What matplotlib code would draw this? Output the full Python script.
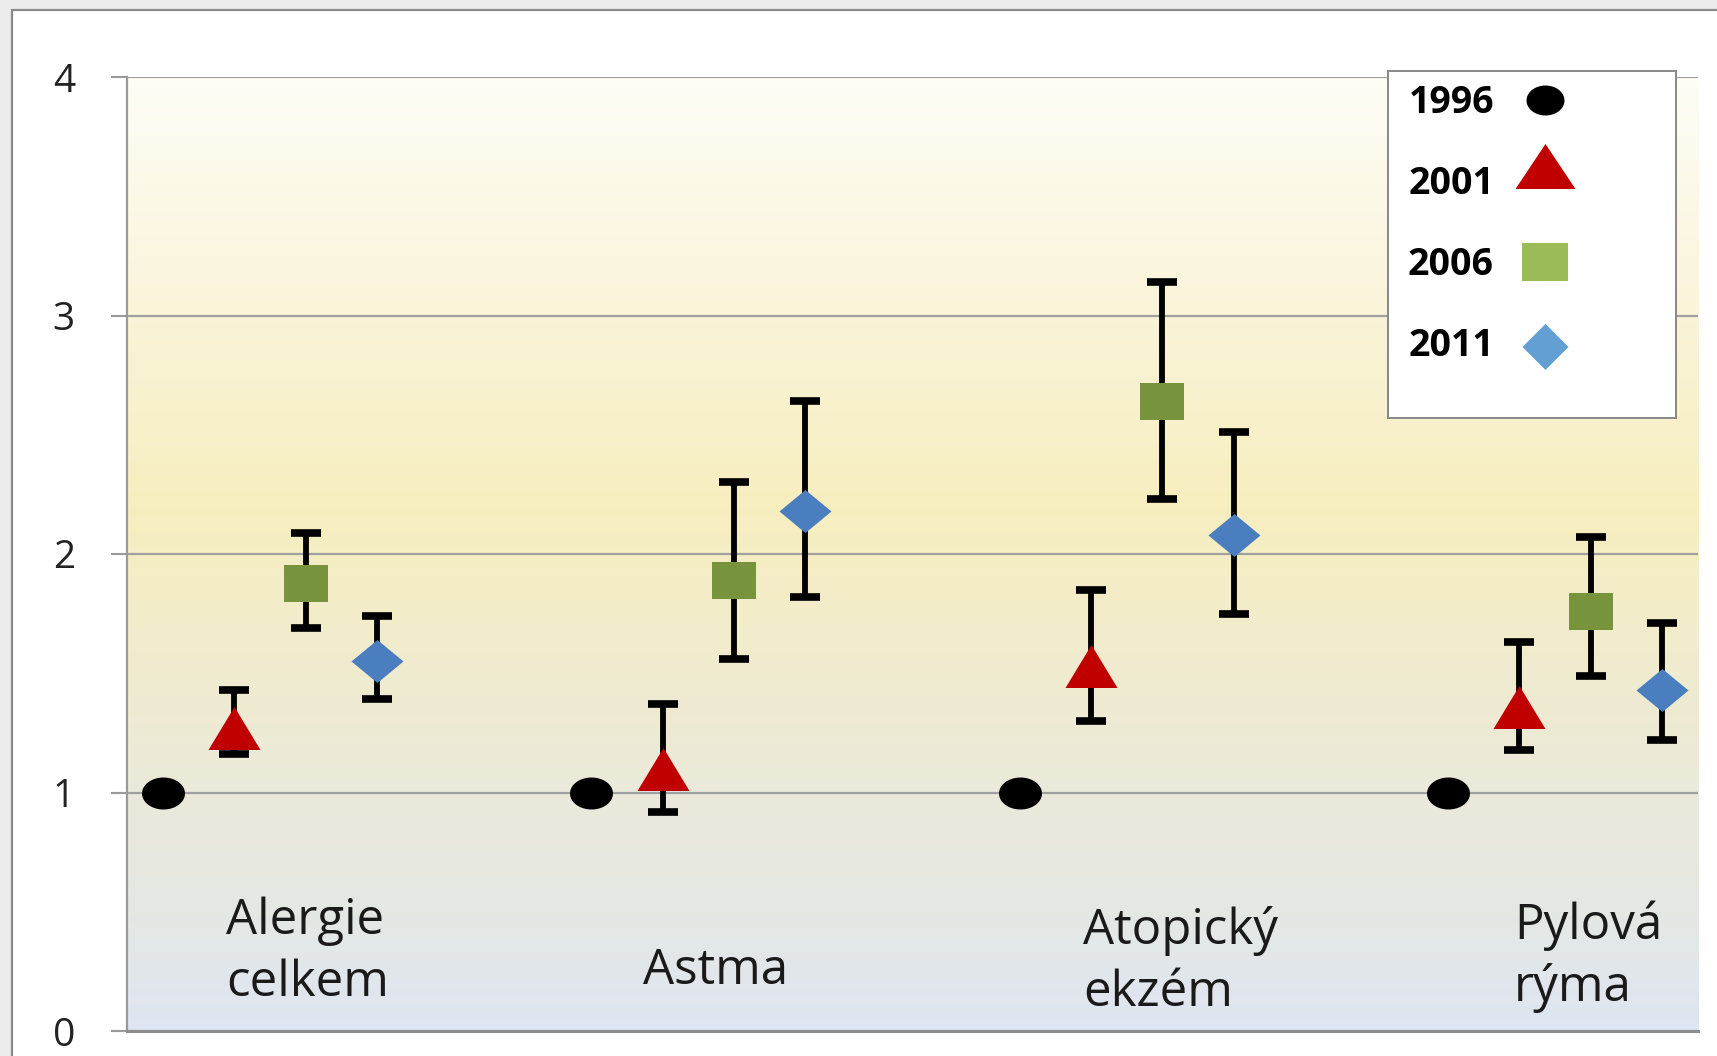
import numpy as np
import matplotlib
matplotlib.use("Agg")
import matplotlib.pyplot as plt
from matplotlib.path import Path
from matplotlib.lines import Line2D
from matplotlib.patches import Rectangle
from matplotlib.colors import LinearSegmentedColormap

plt.rcParams['font.family'] = ['Open Sans', 'DejaVu Sans']

# ---------------- data ----------------
categories = ["Alergie\ncelkem", "Astma", "Atopický\nekzém", "Pylová\nrýma"]
years = ["1996", "2001", "2006", "2011"]

val_1996 = [1.0, 1.0, 1.0, 1.0]
val_2001 = [1.27, 1.10, 1.53, 1.36]
val_2006 = [1.88, 1.89, 2.64, 1.76]
val_2011 = [1.55, 2.18, 2.08, 1.43]

low_2001 = [1.16, 0.92, 1.30, 1.18]
high_2001 = [1.43, 1.37, 1.85, 1.63]
low_2006 = [1.69, 1.56, 2.23, 1.49]
high_2006 = [2.09, 2.30, 3.14, 2.07]
low_2011 = [1.39, 1.82, 1.75, 1.22]
high_2011 = [1.74, 2.64, 2.51, 1.71]

yticks = [0, 1, 2, 3, 4]
# category label anchors (left x in slot units, vertical centre)
label_x = [0.89, 6.72, 12.89, 18.92]
label_y = [0.33, 0.25, 0.29, 0.31]

# ---------------- styling ----------------
W, H = 1717, 1056
fig = plt.figure(figsize=(W / 100, H / 100), dpi=100)
fig.patch.set_facecolor('#ECECEC')
fig.patches.append(Rectangle((12 / W, -0.05), 1.1, 1 - 10 / H + 0.05,
                             transform=fig.transFigure, facecolor='white',
                             edgecolor='#8A8A8A', linewidth=1.6, zorder=-5))

ax = fig.add_axes([127 / W, (H - 1031) / H, (1698 - 127) / W, (1031 - 77) / H])
ax.set_zorder(1)
group_gap = 6
xmin, xmax = -0.5, (len(categories) - 1) * group_gap + 3.5
ax.set_xlim(xmin, xmax)
ax.set_ylim(0, 4)

# gradient background
cmap = LinearSegmentedColormap.from_list('bg', [
    (0.00, '#DFE5F2'),
    (0.12, '#E4E8E4'),
    (0.25, '#EBE9DA'),
    (0.40, '#F1ECCD'),
    (0.55, '#F7EEBF'),
    (0.75, '#FAF4D8'),
    (1.00, '#FEFDF6'),
])
ax.imshow(np.linspace(0, 1, 256).reshape(-1, 1), cmap=cmap, origin='lower',
          extent=(xmin, xmax, 0, 4), aspect='auto', zorder=0)
ax.set_facecolor('none')


def ellipse_marker(aspect):
    t = np.linspace(0, 2 * np.pi, 60)
    v = np.column_stack([np.cos(t), aspect * np.sin(t)])
    return Path(v, closed=True)


def poly_marker(verts):
    v = np.array(verts + [verts[0]], dtype=float)
    codes = [Path.MOVETO] + [Path.LINETO] * (len(verts) - 1) + [Path.CLOSEPOLY]
    return Path(v, codes)


m_circle = ellipse_marker(32 / 43)
m_tri = poly_marker([(-1, -43 / 52), (1, -43 / 52), (0, 43 / 52)])
m_square = poly_marker([(-1, -37 / 44), (1, -37 / 44), (1, 37 / 44), (-1, 37 / 44)])
m_diam = poly_marker([(-1, 0), (0, -43 / 52), (1, 0), (0, 43 / 52)])

px = 72 / 100  # points per pixel
series = [
    (val_1996, None, None, m_circle, 'black', 43 * px),
    (val_2001, low_2001, high_2001, m_tri, '#C00000', 52 * px),
    (val_2006, low_2006, high_2006, m_square, '#77933C', 44 * px),
    (val_2011, low_2011, high_2011, m_diam, '#4A7EBF', 52 * px),
]

for s, (vals, lo, hi, mk, col, ms) in enumerate(series):
    xs = np.arange(len(categories)) * group_gap + s
    vals = np.array(vals)
    if lo is not None:
        yerr = [vals - np.array(lo), np.array(hi) - vals]
        ax.errorbar(xs, vals, yerr=yerr, fmt='none', ecolor='black',
                    elinewidth=4.2, capsize=10.5, capthick=5.5, zorder=3)
    ax.plot(xs, vals, linestyle='none', marker=mk, markersize=ms,
            markerfacecolor=col, markeredgewidth=0, zorder=4)

# category labels
for cx, cy, txt in zip(label_x, label_y, categories):
    ax.text(cx, cy, txt, ha='left', va='center', fontsize=35.5,
            color='#1A1A1A', linespacing=1.32, zorder=5)

# axes
ax.set_yticks(yticks)
ax.set_yticklabels([str(t) for t in yticks])
ax.set_xticks([])
ax.tick_params(axis='y', direction='out', length=11.5, width=1.5,
               color='#9A9A9A', labelcolor='#222222', labelsize=28, pad=26)
ax.yaxis.grid(True, color='#A0A0A0', linewidth=1.6, zorder=1)
ax.set_axisbelow(True)
for sp in ['top', 'right']:
    ax.spines[sp].set_visible(False)
ax.spines['left'].set_color('#9A9A9A')
ax.spines['left'].set_linewidth(1.6)
ax.spines['bottom'].set_color('#8C8C8C')
ax.spines['bottom'].set_linewidth(2.2)

# legend box
fig.patches.append(Rectangle((1388 / W, 1 - 418 / H), (1676 - 1388) / W, (418 - 71) / H,
                             transform=fig.transFigure, facecolor='white',
                             edgecolor='#888888', linewidth=1.4, zorder=5))
leg_colors = ['black', '#C00000', '#9BBB59', '#629FD3']
leg_sizes = [38 * px, 60 * px * 1.25, 46 * px, 46 * px * 1.15]
leg_markers = [ellipse_marker(30 / 38),
               poly_marker([(-1, -0.25), (1, -0.25), (0, 1.25)]),
               poly_marker([(-1, -38 / 46), (1, -38 / 46), (1, 38 / 46), (-1, 38 / 46)]),
               poly_marker([(-1, -0.15), (0, -1.15), (1, -0.15), (0, 0.85)])]
handles = [Line2D([], [], linestyle='none', marker=m, markersize=sz,
                  markerfacecolor=c, markeredgewidth=0)
           for m, c, sz in zip(leg_markers, leg_colors, leg_sizes)]
leg = fig.legend(handles, years, loc='upper left',
                 bbox_to_anchor=(1408 / W, 1 - 84 / H), bbox_transform=fig.transFigure,
                 frameon=False, markerfirst=False, borderaxespad=0, borderpad=0,
                 prop={'weight': 'bold', 'size': 27}, labelspacing=1.15,
                 handlelength=1.2, handletextpad=0.75)
leg.set_zorder(6)

fig.savefig('out.png', dpi=100)
